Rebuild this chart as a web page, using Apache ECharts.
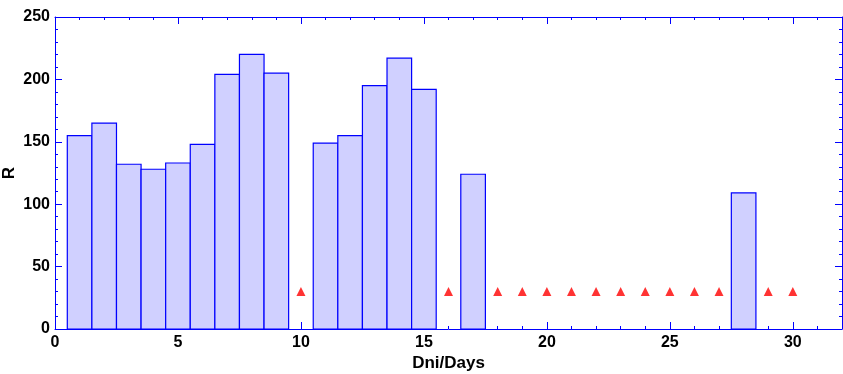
<!DOCTYPE html>
<html><head><meta charset="utf-8">
<script src="https://cdn.jsdelivr.net/npm/echarts@6/dist/echarts.min.js"></script>
<style>html,body{margin:0;padding:0;background:#fff}#c{width:843px;height:374px}</style>
</head><body><div id="c"></div>
<script>
const days = [1,2,3,4,5,6,7,8,9,10,11,12,13,14,15,16,17,18,19,20,21,22,23,24,25,26,27,28,29,30];
const rValues = [155,165,132,128,133,148,204,220,205,null,149,155,195,217,192,null,124,null,null,null,null,null,null,null,null,null,null,109,null,null];
const missingDays = [10,16,18,19,20,21,22,23,24,25,26,27,29,30];
const missingLevel = [30,30,30,30,30,30,30,30,30,30,30,30,30,30];
const xTicks = [0,5,10,15,20,25,30];
const yTicks = [0,50,100,150,200,250];

const barData = [];
days.forEach((d,i)=>{ if(rValues[i]!==null) barData.push([d, rValues[i]]); });
const triData = missingDays.map((d,i)=>[d, missingLevel[i]]);

const font = 'Liberation Sans, Arial, sans-serif';
const blue = '#0000ff';
function axisCommon(show){
  return {
    axisLine:{show:true,onZero:false,lineStyle:{color:blue,width:1}},
    axisTick:{show:true,inside:true,length:7,lineStyle:{color:blue,width:1}},
    minorTick:{show:true,splitNumber:5,length:3,lineStyle:{color:blue,width:1}},
    splitLine:{show:false},
    axisLabel:{show:show,color:'#000',fontFamily:font,fontWeight:'bold',fontSize:16}
  };
}
const chart = echarts.init(document.getElementById('c'));
chart.setOption({
  animation:false,
  grid:{left:55,right:1,top:17,bottom:45,containLabel:false,outerBoundsMode:'none'},
  xAxis:[
    Object.assign({type:'value',min:0,max:32,interval:5,position:'bottom',
      name:'Dni/Days',nameLocation:'middle',nameGap:26,nameMoveOverlap:false,
      nameTextStyle:{color:'#000',fontFamily:font,fontWeight:'bold',fontSize:17}},axisCommon(true),
      {axisLabel:{show:true,color:'#000',fontFamily:font,fontWeight:'bold',fontSize:16,margin:6,
        formatter:v=>xTicks.includes(v)?String(v):''}}),
    Object.assign({type:'value',min:0,max:32,interval:5,position:'top'},axisCommon(false))
  ],
  yAxis:[
    Object.assign({type:'value',min:0,max:250,interval:50,position:'left',
      name:'R',nameLocation:'middle',nameGap:37,nameRotate:90,nameMoveOverlap:false,
      nameTextStyle:{color:'#000',fontFamily:font,fontWeight:'bold',fontSize:17}},axisCommon(true),
      {axisLabel:{show:true,color:'#000',fontFamily:font,fontWeight:'bold',fontSize:16,margin:5,
        formatter:v=>yTicks.includes(v)?String(v):''}}),
    Object.assign({type:'value',min:0,max:250,interval:50,position:'right'},axisCommon(false))
  ],
  series:[
    {
      type:'custom',
      xAxisIndex:0,yAxisIndex:0,
      data:barData,
      renderItem:function(params,api){
        const x = api.value(0), y = api.value(1);
        const p0 = api.coord([x-0.5, 0]);
        const p1 = api.coord([x+0.5, y]);
        return {type:'rect',
          shape:{x:p0[0],y:p1[1],width:p1[0]-p0[0],height:p0[1]-p1[1]},
          style:{fill:'#d0d0ff',stroke:blue,lineWidth:1.2}};
      },
      z:2
    },
    {
      type:'scatter',xAxisIndex:0,yAxisIndex:0,
      data:triData,symbol:'triangle',symbolSize:[9,9],
      itemStyle:{color:'#ff0000'},z:3
    }
  ]
});
</script></body></html>
